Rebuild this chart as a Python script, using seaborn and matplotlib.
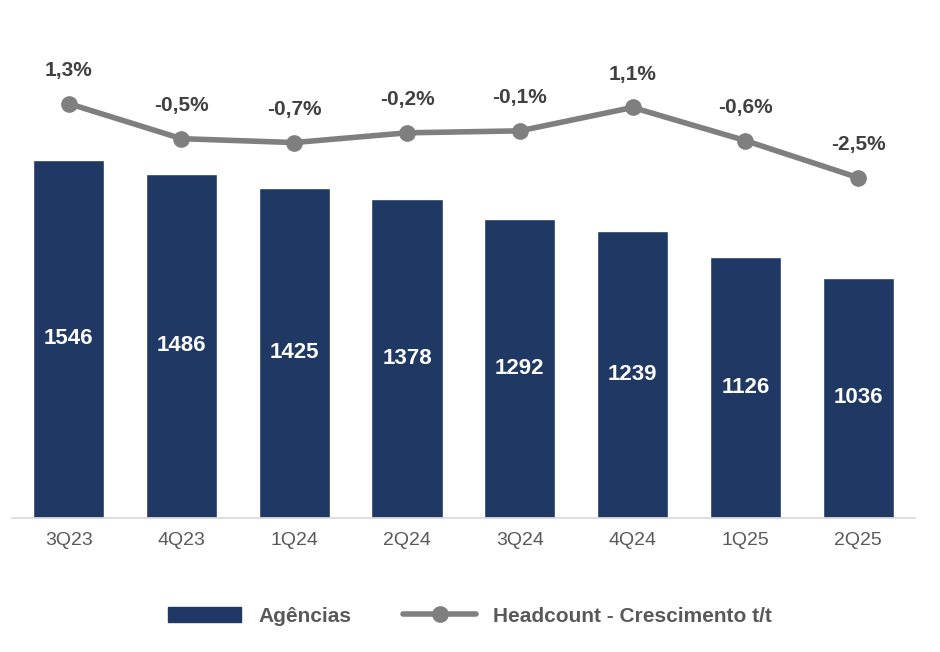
import matplotlib
matplotlib.use("Agg")
import matplotlib.pyplot as plt
import seaborn as sns
import pandas as pd
from matplotlib.lines import Line2D
from matplotlib.patches import Patch

quarters = ["3Q23", "4Q23", "1Q24", "2Q24", "3Q24", "4Q24", "1Q25", "2Q25"]
agencias = [1546, 1486, 1425, 1378, 1292, 1239, 1126, 1036]
headcount = [1.3, -0.5, -0.7, -0.2, -0.1, 1.1, -0.6, -2.5]
head_labels = ["1,3%", "-0,5%", "-0,7%", "-0,2%", "-0,1%", "1,1%", "-0,6%", "-2,5%"]

sns.set_theme(style="white")
plt.rcParams['font.family'] = ['Liberation Sans', 'DejaVu Sans']

navy = "#1F3864"
gray = "#7F7F7F"
df = pd.DataFrame({"q": quarters, "a": agencias, "h": headcount})

fig = plt.figure(figsize=(9.4, 6.52), dpi=100)
ax = fig.add_axes([0.013, 0.2055, 0.96, 0.764])
sns.barplot(data=df, x="q", y="a", color=navy, width=0.63, ax=ax, saturation=1)
ax.set_ylim(0, 2150)
ax.set_xlim(-0.5, 7.5)
for i, v in enumerate(agencias):
    ax.text(i, v / 2, str(v), ha="center", va="center", color="white",
            fontsize=16, fontweight="bold")
ax.set_yticks([])
ax.set_xlabel(""); ax.set_ylabel("")
ax.tick_params(axis="x", labelsize=14, colors="#595959", length=0, pad=10)
for s in ["top", "right", "left"]:
    ax.spines[s].set_visible(False)
ax.spines["bottom"].set_color("#D9D9D9")

ax2 = ax.twinx()
ax2.plot(range(len(quarters)), headcount, color=gray, lw=4, marker="o",
         markersize=11, solid_capstyle="round")
ax2.set_ylim(-19.95, 5.59)
ax2.set_yticks([])
for s in ax2.spines.values():
    s.set_visible(False)
for i, (v, t) in enumerate(zip(headcount, head_labels)):
    ax2.annotate(t, (i, v), xytext=(0, 17), textcoords="offset points",
                 ha="center", va="bottom", fontsize=15, fontweight="bold",
                 color="#404040")

handles = [Patch(color=navy, label="Agências"),
           Line2D([], [], color=gray, lw=4, marker="o", markersize=11,
                  label="Headcount - Crescimento t/t")]
fig.legend(handles=handles, loc="center", bbox_to_anchor=(0.5, 0.055), ncol=2,
           frameon=False, prop={"size": 15, "weight": "bold"},
           labelcolor="#595959", handlelength=3.5, columnspacing=2.5)

fig.savefig("out.png", dpi=100)
